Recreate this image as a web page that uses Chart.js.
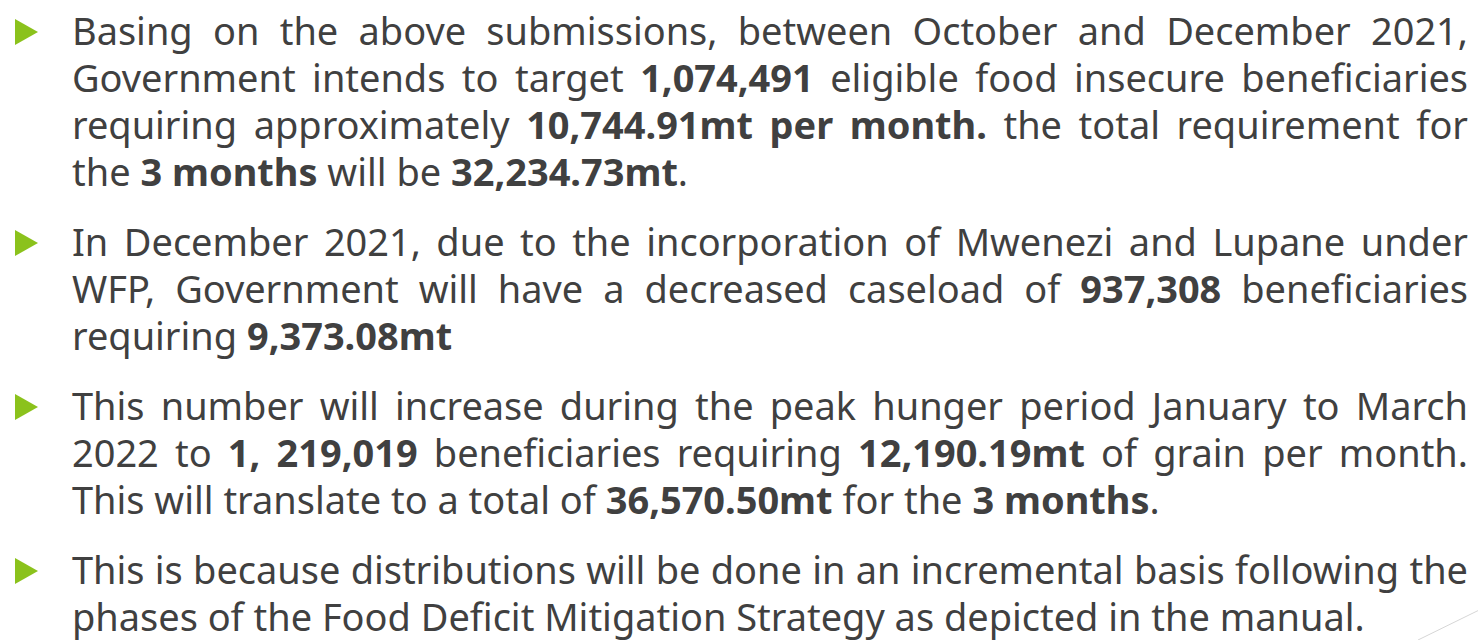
<!DOCTYPE html>
<html>
<head>
<meta charset="utf-8">
<script src="https://cdn.jsdelivr.net/npm/chart.js@4.4.0/dist/chart.umd.min.js"></script>
<style>
  html, body { margin: 0; padding: 0; background: #ffffff; }
  body { width: 1478px; height: 640px; overflow: hidden; position: relative; font-family: "Noto Sans", sans-serif; color: #404040; }
  #slide { position: absolute; left: 0; top: 7px; width: 1468px; }
  .para { position: relative; padding-left: 72px; margin-bottom: 23px; }
  .bullet { position: absolute; left: 15px; top: 12px; width: 0; height: 0;
            border-top: 13px solid transparent; border-bottom: 13px solid transparent;
            border-left: 23px solid #8bc21c; }
  .line { height: 47px; line-height: 47px; white-space: nowrap; text-align: justify; text-align-last: justify; }
  .line.last { text-align-last: left; }
  b { font-weight: 700; }
  #corner { position: absolute; right: 0; bottom: 0; width: 60px; height: 42px; }
</style>
</head>
<body>
<div id="slide"></div>
<div id="corner"><canvas id="cornerLine"></canvas></div>
<script>
// texto de cada viñeta, linea por linea (** = negrita)
var bullet1 = [
  "Basing on the above submissions, between October and December 2021,",
  "Government intends to target **1,074,491** eligible food insecure beneficiaries",
  "requiring approximately **10,744.91mt per month.** the total requirement for",
  "the **3 months** will be **32,234.73mt**."
];
var bullet2 = [
  "In December 2021, due to the incorporation of Mwenezi and Lupane under",
  "WFP, Government will have a decreased caseload of **937,308** beneficiaries",
  "requiring **9,373.08mt**"
];
var bullet3 = [
  "This number will increase during the peak hunger period January to March",
  "2022 to **1, 219,019** beneficiaries requiring **12,190.19mt** of grain per month.",
  "This will translate to a total of **36,570.50mt** for the **3 months**."
];
var bullet4 = [
  "This is because distributions will be done in an incremental basis following the",
  "phases of the Food Deficit Mitigation Strategy as depicted in the manual."
];
var bullets = [bullet1, bullet2, bullet3, bullet4];

// linea decorativa de la esquina
var cornerX = [0, 1];
var cornerY = [0, 0.7];

function withBold(txt){
  return txt.replace(/\*\*(.+?)\*\*/g, "<b>$1</b>");
}

var slide = document.getElementById("slide");
for (var i = 0; i < bullets.length; i++) {
  var para = document.createElement("div");
  para.className = "para";
  var tri = document.createElement("div");
  tri.className = "bullet";
  para.appendChild(tri);
  for (var j = 0; j < bullets[i].length; j++) {
    var line = document.createElement("div");
    line.className = "line";
    //la ultima linea de cada viñeta va sin justificar
    if (j == bullets[i].length - 1) {
      line.classList.add("last");
    }
    line.innerHTML = withBold(bullets[i][j]);
    para.appendChild(line);
  }
  slide.appendChild(para);
}

// ajusta el tamaño de letra: la ultima linea mide ~1293px en la referencia
var probe = document.createElement("span");
probe.style.position = "absolute";
probe.style.visibility = "hidden";
probe.style.whiteSpace = "nowrap";
probe.innerHTML = withBold(bullet4[1]);
document.body.appendChild(probe);
var size = 34;
probe.style.fontSize = size + "px";
size = size * 1293 / probe.getBoundingClientRect().width;
document.body.removeChild(probe);
slide.style.fontSize = size.toFixed(2) + "px";

var ctx = document.getElementById("cornerLine");
new Chart(ctx, {
  type: "line",
  data: {
    labels: cornerX,
    datasets: [{
      data: cornerY,
      borderColor: "#d6d6d6",
      borderWidth: 1,
      pointRadius: 0
    }]
  },
  options: {
    responsive: true,
    maintainAspectRatio: false,
    animation: false,
    layout: { padding: 0 },
    plugins: { legend: { display: false }, tooltip: { enabled: false } },
    scales: {
      x: { type: "linear", display: false, min: 0, max: 1 },
      y: { display: false, min: 0, max: 1 }
    }
  }
});
</script>
</body>
</html>
